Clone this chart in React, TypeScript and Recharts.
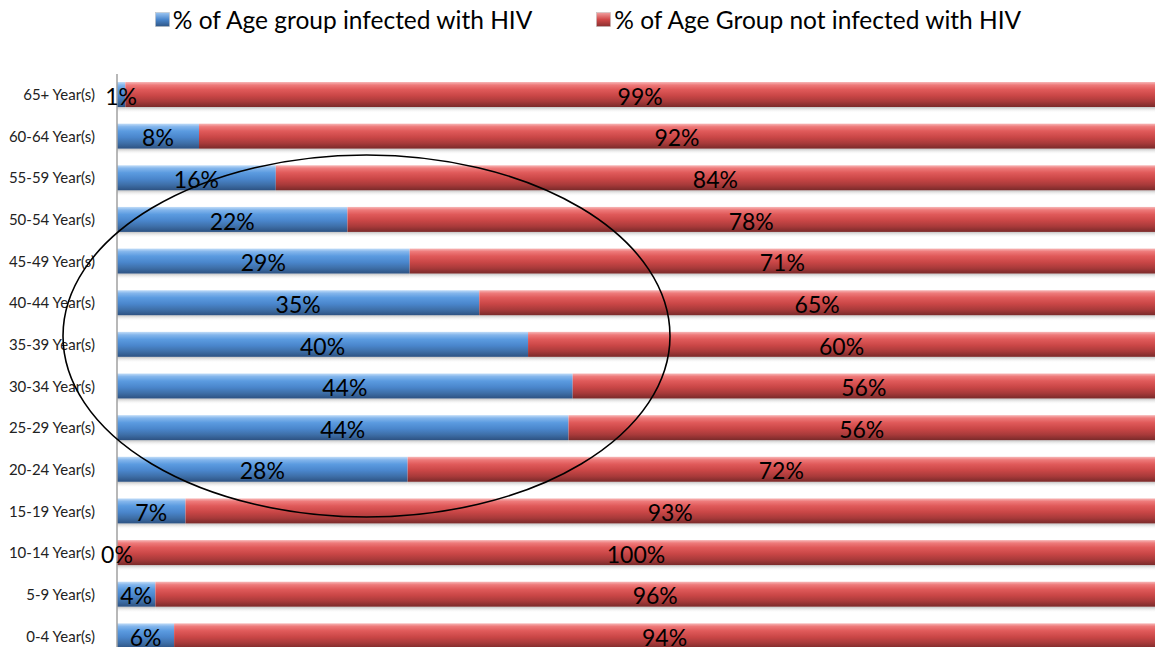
import React from 'react';
import { BarChart, Bar, XAxis, YAxis, LabelList } from 'recharts';

const ageGroups = ['65+ Year(s)', '60-64 Year(s)', '55-59 Year(s)', '50-54 Year(s)', '45-49 Year(s)', '40-44 Year(s)', '35-39 Year(s)', '30-34 Year(s)', '25-29 Year(s)', '20-24 Year(s)', '15-19 Year(s)', '10-14 Year(s)', '5-9 Year(s)', '0-4 Year(s)'];
const infected = [0.8, 7.9, 15.3, 22.2, 28.2, 34.9, 39.6, 43.9, 43.5, 28.0, 6.6, 0, 3.7, 5.5];
const notInfected = [99.2, 92.1, 84.7, 77.8, 71.8, 65.1, 60.4, 56.1, 56.5, 72.0, 93.4, 100, 96.3, 94.5];
const infectedLabels = ['1%', '8%', '16%', '22%', '29%', '35%', '40%', '44%', '44%', '28%', '7%', '0%', '4%', '6%'];
const notInfectedLabels = ['99%', '92%', '84%', '78%', '71%', '65%', '60%', '56%', '56%', '72%', '93%', '100%', '96%', '94%'];
const seriesNames = ['% of Age group infected with HIV', '% of Age Group not infected with HIV'];

const data = ageGroups.map((age, i) => ({
  age,
  inf: infected[i],
  notInf: notInfected[i],
  infLabel: infectedLabels[i],
  notInfLabel: notInfectedLabels[i],
}));

const FONT = 'Lato, "Open Sans", sans-serif';

const BarShape = (grad: string) => (props: any) => {
  const { x, y, width, height } = props;
  if (!width || width <= 0) return <g />;
  return (
    <g>
      <rect x={x} y={y + height} width={width} height={6} fill="url(#shadowGrad)" />
      <rect x={x} y={y} width={width} height={height} fill={`url(#${grad})`} />
    </g>
  );
};

const LegendIcon = ({ grad }: { grad: string }) => (
  <svg width={15} height={15} style={{ verticalAlign: 'middle', marginRight: 3 }}>
    <defs>
      <linearGradient id={`lg-${grad}`} x1="0" y1="0" x2="0" y2="1">
        {grad === 'blue' ? (
          <>
            <stop offset="0" stopColor="#9cc6f2" />
            <stop offset="0.5" stopColor="#4a86cc" />
            <stop offset="1" stopColor="#2f5686" />
          </>
        ) : (
          <>
            <stop offset="0" stopColor="#f2a0a0" />
            <stop offset="0.5" stopColor="#d04848" />
            <stop offset="1" stopColor="#8a3030" />
          </>
        )}
      </linearGradient>
    </defs>
    <rect x={0.5} y={0.5} width={14} height={14} fill={`url(#lg-${grad})`} stroke="#bbb" strokeWidth={0.5} />
  </svg>
);

export default function App() {
  return (
    <div style={{ position: 'absolute', left: 0, top: 0, width: 1155, height: 660, background: '#fff', overflow: 'hidden' }}>
      <div style={{ position: 'absolute', left: 0, top: 5, width: 1155, display: 'flex', justifyContent: 'center', fontFamily: FONT, fontSize: 24.5, color: '#000', whiteSpace: 'nowrap' }}>
        <div style={{ display: 'flex', alignItems: 'center', marginRight: 64, marginLeft: 21 }}>
          <LegendIcon grad="blue" />
          <span>{seriesNames[0]}</span>
        </div>
        <div style={{ display: 'flex', alignItems: 'center' }}>
          <LegendIcon grad="red" />
          <span>{seriesNames[1]}</span>
        </div>
      </div>
      <BarChart
        width={1155}
        height={660}
        data={data}
        layout="vertical"
        margin={{ top: 74, right: 0, bottom: 3, left: 0 }}
        barSize={25}
      >
        <defs>
          <linearGradient id="blueGrad" x1="0" y1="0" x2="0" y2="1">
            <stop offset="0" stopColor="#c2ddf8" />
            <stop offset="0.12" stopColor="#84b6ec" />
            <stop offset="0.3" stopColor="#5b9be0" />
            <stop offset="0.55" stopColor="#4a86cc" />
            <stop offset="0.78" stopColor="#3e6fa8" />
            <stop offset="1" stopColor="#2d5282" />
          </linearGradient>
          <linearGradient id="redGrad" x1="0" y1="0" x2="0" y2="1">
            <stop offset="0" stopColor="#f7b8b8" />
            <stop offset="0.12" stopColor="#ee7a7a" />
            <stop offset="0.3" stopColor="#e05a5a" />
            <stop offset="0.55" stopColor="#c94646" />
            <stop offset="0.78" stopColor="#a83a3a" />
            <stop offset="1" stopColor="#7a2a2a" />
          </linearGradient>
          <linearGradient id="shadowGrad" x1="0" y1="0" x2="0" y2="1">
            <stop offset="0" stopColor="#aaaaaa" stopOpacity={0.7} />
            <stop offset="1" stopColor="#ffffff" stopOpacity={0} />
          </linearGradient>
        </defs>
        <XAxis type="number" domain={[0, 100]} hide />
        <YAxis
          type="category"
          dataKey="age"
          width={117}
          tickLine={false}
          tickSize={0}
          tickMargin={22}
          axisLine={{ stroke: '#a0a0a0', strokeWidth: 1.5 }}
          tick={{ fill: '#222', fontSize: 15, fontFamily: FONT }}
          interval={0}
        />
        <Bar dataKey="inf" stackId="a" isAnimationActive={false} shape={BarShape('blueGrad')} fill="#4a86cc">
          <LabelList dataKey="infLabel" position="center" fill="#000" dy={2} style={{ fontSize: 23, fontFamily: FONT }} />
        </Bar>
        <Bar dataKey="notInf" stackId="a" isAnimationActive={false} shape={BarShape('redGrad')} fill="#c94646">
          <LabelList dataKey="notInfLabel" position="center" fill="#000" dy={2} style={{ fontSize: 23, fontFamily: FONT }} />
        </Bar>
      </BarChart>
      <svg width={1155} height={660} style={{ position: 'absolute', left: 0, top: 0, pointerEvents: 'none' }}>
        <ellipse cx={366.5} cy={336} rx={303.5} ry={181} fill="none" stroke="#000" strokeWidth={1.6} />
      </svg>
    </div>
  );
}
